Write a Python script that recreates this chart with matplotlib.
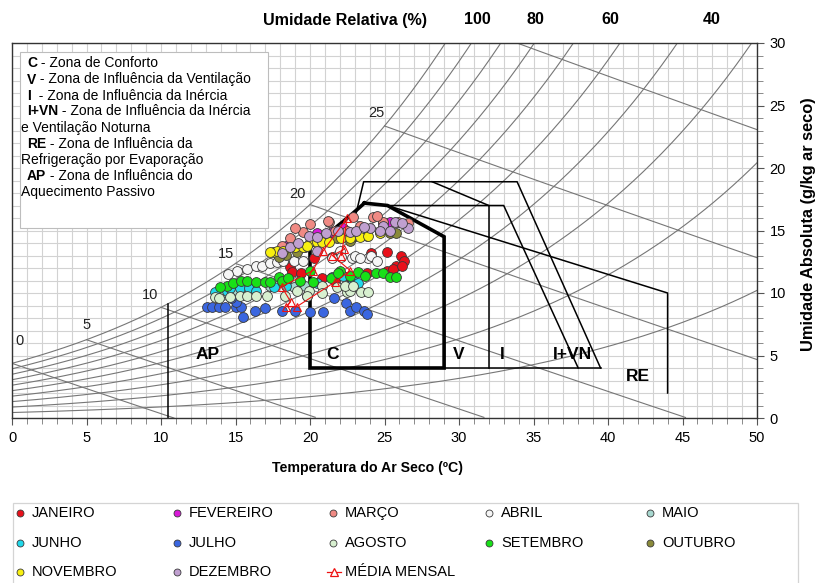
import numpy as np
import matplotlib
matplotlib.use('Agg')
import matplotlib.pyplot as plt
from matplotlib.lines import Line2D
from matplotlib.patches import Rectangle

plt.rcParams['font.family'] = ['Liberation Sans', 'DejaVu Sans']

# ---------------- data ----------------
jan_t = [20.3, 21.5, 24.1, 25.15, 26.1, 26.3, 25.8, 25.15, 23.8, 18.65, 18.8, 19.4, 20.8, 22.7, 21.7, 25.6, 26.2]
jan_w = [12.8, 12.9, 13.2, 13.3, 13.0, 12.6, 12.2, 11.8, 11.6, 12.1, 11.7, 11.6, 11.2, 11.3, 11.0, 11.9, 12.2]
fev_t = [20.45, 22.2, 25.4, 18.4, 24.9, 21.45]
fev_w = [14.8, 15.2, 15.7, 13.8, 15.6, 14.9]
mar_t = [21.3, 19.55, 18.65, 18.1, 21.7, 22.5, 23.35, 24.2, 24.9, 25.9, 26.6, 22.9, 21.2, 22.9, 24.5, 19.0, 20.0]
mar_w = [15.7, 14.9, 14.4, 13.8, 15.0, 15.0, 15.4, 16.1, 15.7, 15.7, 15.6, 14.6, 15.8, 16.1, 16.2, 15.2, 15.5]
abr_t = [15.75, 16.4, 16.8, 17.3, 17.8, 18.2, 18.9, 19.55, 22.0, 22.1, 22.8, 23.0, 23.9, 24.1, 24.5, 21.5, 23.35, 15.1, 14.5]
abr_w = [11.95, 12.2, 12.2, 12.4, 12.5, 12.6, 12.6, 12.6, 13.4, 12.9, 12.8, 13.0, 12.8, 13.0, 12.6, 12.8, 12.8, 11.8, 11.5]
mai_t = [13.85, 14.86, 16.2, 17.3, 19.65, 22.6, 14.3, 15.5, 18.9, 23.1]
mai_w = [9.97, 9.97, 10.24, 10.6, 10.6, 10.6, 10.1, 10.1, 10.5, 10.6]
jun_t = [13.6, 14.4, 15.3, 15.9, 16.4, 17.6, 18.4, 21.5, 22.2, 22.9, 23.2, 14.6, 20.45]
jun_w = [10.1, 10.2, 10.4, 10.4, 10.2, 10.5, 10.6, 11.3, 11.4, 11.0, 10.8, 10.4, 10.8]
jul_t = [13.1, 13.4, 13.9, 14.3, 15.0, 15.4, 15.5, 15.0, 17.0, 18.1, 19.0, 20.0, 20.9, 21.6, 22.4, 22.7, 23.1, 23.6, 23.8, 19.8, 16.3, 14.7]
jul_w = [8.9, 8.9, 8.9, 8.9, 8.9, 8.9, 8.1, 9.3, 8.8, 8.6, 8.6, 8.5, 8.5, 9.6, 9.2, 8.6, 8.9, 8.6, 8.3, 9.8, 8.6, 9.6]
ago_t = [13.6, 13.9, 14.6, 15.3, 15.75, 16.4, 17.1, 18.3, 19.1, 19.9, 20.8, 20.8, 21.8, 22.5, 22.7, 23.4, 23.9, 19.8, 22.35, 22.9]
ago_w = [9.7, 9.6, 9.7, 9.8, 9.8, 9.8, 9.8, 9.8, 10.2, 10.2, 10.6, 10.0, 10.5, 10.1, 10.2, 10.1, 10.1, 9.8, 10.6, 10.6]
set_t = [14.4, 14.85, 15.4, 15.75, 16.4, 17.0, 17.3, 17.9, 18.1, 18.5, 19.3, 20.0, 20.2, 21.4, 22.0, 22.7, 23.2, 23.7, 24.4, 24.9, 25.4, 25.8, 21.9, 13.96]
set_w = [10.6, 10.8, 11.0, 11.0, 10.9, 10.9, 10.9, 11.3, 11.0, 11.2, 11.0, 11.8, 10.9, 11.2, 11.8, 11.4, 11.7, 11.4, 11.6, 11.6, 11.3, 11.3, 11.6, 10.5]
out_t = [18.4, 19.1, 19.65, 21.1, 22.9, 23.8, 24.7, 25.4, 25.8, 22.7, 21.8, 17.9]
out_w = [13.04, 13.3, 13.7, 14.4, 14.5, 14.6, 14.9, 14.8, 14.8, 14.2, 14.4, 12.9]
nov_t = [17.5, 17.8, 18.2, 19.0, 19.5, 20.0, 20.45, 20.8, 21.25, 22.1, 23.35, 23.9, 24.7, 17.3, 19.8, 22.7]
nov_w = [13.3, 13.4, 13.4, 13.7, 13.7, 14.1, 14.1, 14.1, 14.1, 14.4, 14.5, 14.6, 14.8, 13.3, 13.8, 14.4]
dez_t = [18.65, 19.2, 19.9, 20.45, 21.1, 21.9, 22.7, 23.1, 24.0, 24.9, 25.7, 26.6, 26.15, 20.45, 18.1, 24.7, 25.4, 23.6]
dez_w = [13.7, 14.0, 14.6, 14.5, 14.8, 15.0, 14.9, 15.0, 15.2, 15.4, 15.7, 15.2, 15.6, 13.4, 13.2, 15.0, 15.0, 15.3]

media_t = [22.1, 22.5, 20.9, 20.2, 18.1, 18.7, 18.4, 19.1, 21.7, 22.7, 21.5, 22.3]
media_w = [13.0, 16.0, 13.4, 11.8, 10.5, 9.3, 8.9, 8.9, 10.9, 11.8, 13.0, 13.5]

month_names = ['JANEIRO', 'FEVEREIRO', 'MARÇO', 'ABRIL', 'MAIO', 'JUNHO', 'JULHO',
               'AGOSTO', 'SETEMBRO', 'OUTUBRO', 'NOVEMBRO', 'DEZEMBRO']
month_colors = ['#e8101a', '#d818d8', '#f08a84', '#f6f6f6', '#a8d8d0', '#20d8ea',
                '#3a66e0', '#d8f0d0', '#18e018', '#8a8a3a', '#f8f010', '#c0a0d0']
month_t = [jan_t, fev_t, mar_t, abr_t, mai_t, jun_t, jul_t, ago_t, set_t, out_t, nov_t, dez_t]
month_w = [jan_w, fev_w, mar_w, abr_w, mai_w, jun_w, jul_w, ago_w, set_w, out_w, nov_w, dez_w]
media_name = 'MÉDIA MENSAL'

# chart structure
rh_levels = [0.1, 0.2, 0.3, 0.4, 0.5, 0.6, 0.7, 0.8, 0.9, 1.0]
wb_levels = [0, 5, 10, 15, 20, 25, 30]
wb_labels = ['0', '5', '10', '15', '20', '25']
wb_label_off = [(8, 22), (0, 15), (-11, 12), (-10, 9), (-13, 11), (-8, 13)]
rh_top_labels = ['100', '80', '60', '40']
rh_top_x_px = [477, 535, 610, 712]

# zones (temperature, absolute humidity)
c_fixed_t = [23.65, 25.2, 29, 29, 20, 20]
c_fixed_w = [17.0, 17.0, 14.5, 4, 4, 13.4]
ivn_t = [23.1, 23.6, 33.9, 39.5]
ivn_w = [16.4, 18.9, 18.9, 4]
diag_t = [28.2, 32.0]
diag_w = [18.9, 17.0]
i_t = [25.2, 33.0, 38.0]
i_w = [17.0, 17.0, 4.0]
v_t = [32.0, 32.0]
v_w = [17.0, 4.0]
base_t = [29.0, 39.5]
base_w = [4.0, 4.0]
re_t = [25.2, 44.0, 44.0]
re_w = [17.0, 10.0, 2.0]
ap_t = [10.5, 10.5]

zone_labels = ['AP', 'C', 'V', 'I', 'I+VN', 'RE']
zone_label_t = [13.1, 21.5, 30.0, 32.9, 37.6, 42.0]
zone_label_w = [5.1, 5.1, 5.1, 5.1, 5.1, 3.3]

P_ATM = 87.5  # kPa


def pws(t):
    return 0.61078 * np.exp(17.27 * t / (t + 237.3))


def wsat(t):
    p = pws(t)
    return 622.0 * p / (P_ATM - p)


# ---------------- figure ----------------
W_PX, H_PX = 821, 583
fig = plt.figure(figsize=(W_PX / 100, H_PX / 100), dpi=100)
ax = fig.add_axes([12 / W_PX, 1 - 418 / H_PX, 745 / W_PX, 375 / H_PX])
ax.set_xlim(0, 50)
ax.set_ylim(0, 30)


def fx(px):
    return px / W_PX


def fy(py):
    return 1 - py / H_PX


ax.set_xticks(np.arange(0, 51, 5))
ax.set_xticks(np.arange(0, 51, 1), minor=True)
ax.set_yticks(np.arange(0, 31, 5))
ax.set_yticks(np.arange(0, 31, 1), minor=True)
ax.grid(which='both', color='#d2d2d2', lw=0.8, zorder=0)
ax.set_axisbelow(True)
ax.yaxis.tick_right()
ax.tick_params(axis='both', which='major', labelsize=10.5, length=5, width=0.8, color='#555555', pad=4)
ax.tick_params(axis='both', which='minor', length=4, width=0.6, color='#777777')
ax.tick_params(axis='y', which='both', left=False, right=True)
for s in ax.spines.values():
    s.set_color('#333333')
    s.set_linewidth(1.0)

# relative humidity curves
tt = np.linspace(0, 50, 400)
for phi in rh_levels:
    ax.plot(tt, phi * wsat(tt), color='#767676', lw=0.8, zorder=1)

# wet bulb lines
for tw in wb_levels:
    ws = wsat(tw) / 1000.0
    t = np.linspace(tw, 50, 300)
    w = ((2501 - 2.326 * tw) * ws - 1.006 * (t - tw)) / (2501 + 1.86 * t - 4.186 * tw) * 1000
    m = w >= 0
    ax.plot(t[m], w[m], color='#767676', lw=0.8, zorder=1)

for lab, tw, off in zip(wb_labels, wb_levels, wb_label_off):
    ax.annotate(lab, xy=(tw, wsat(tw)), xytext=(off[0], off[1]), textcoords='offset pixels',
                ha='center', va='center', fontsize=10.5, color='#222222', zorder=2)

# comfort zone (thick), upper-left edge follows 80% curve
t80 = np.linspace(20, 23.65, 30)
c_t = [c_fixed_t[0]] + c_fixed_t[1:5] + list(t80) + [c_fixed_t[0]]
c_w = [0.8 * wsat(t80[-1])] + c_fixed_w[1:5] + list(0.8 * wsat(t80)) + [0.8 * wsat(t80[-1])]
ax.plot(c_t, c_w, color='black', lw=2.6, zorder=2.5, solid_joinstyle='miter')

for zt, zw in [(ivn_t, ivn_w), (diag_t, diag_w), (i_t, i_w), (v_t, v_w), (base_t, base_w), (re_t, re_w)]:
    ax.plot(zt, zw, color='black', lw=1.1, zorder=2.4)
ax.plot(ap_t, [0, wsat(10.5)], color='black', lw=1.1, zorder=2.4)

for lab, zt, zw in zip(zone_labels, zone_label_t, zone_label_w):
    ax.text(zt, zw, lab, fontsize=12.5, fontweight='bold', ha='center', va='center', zorder=2.6)

# monthly points
for name, col, xt, yw in zip(month_names, month_colors, month_t, month_w):
    ax.scatter(xt, yw, s=50, c=col, edgecolors='#3a3a3a', linewidths=0.6, zorder=3)

ax.plot(media_t, media_w, color='#ee1111', lw=0.8, marker='^', ms=6, mfc='none', mec='#ee1111', mew=0.8, zorder=4)

# axis labels
fig.text(fx(367), fy(468), 'Temperatura do Ar Seco (ºC)', fontsize=10.2, fontweight='bold', ha='center', va='center')
fig.text(fx(808), fy(224), 'Umidade Absoluta (g/kg ar seco)', fontsize=11.8, fontweight='bold',
         ha='center', va='center', rotation=90)

# top labels
fig.text(fx(345), fy(20), 'Umidade Relativa (%)', fontsize=11.6, fontweight='bold', ha='center', va='center')
for lab, xp in zip(rh_top_labels, rh_top_x_px):
    fig.text(fx(xp), fy(20), lab, fontsize=11.6, fontweight='bold', ha='center', va='center')

# description box
box = Rectangle((fx(20), fy(228)), 248 / W_PX, 176 / H_PX, transform=fig.transFigure,
                facecolor='white', edgecolor='#bdbdbd', lw=0.8, zorder=5)
fig.patches.append(box)
desc = [('C', ' - Zona de Conforto', 27, 63),
        ('V', ' - Zona de Influência da Ventilação', 27, 79.5),
        ('I', '  - Zona de Influência da Inércia', 27, 95.5),
        ('I+VN', ' - Zona de Influência da Inércia', 27, 111.5),
        ('', 'e Ventilação Noturna', 21, 128),
        ('RE', ' - Zona de Influência da', 27, 144),
        ('', 'Refrigeração por Evaporação', 21, 159.5),
        ('AP', ' - Zona de Influência do', 27, 176),
        ('', 'Aquecimento Passivo', 21, 192)]
for b, rest, xp, yp in desc:
    if b:
        tb = fig.text(fx(xp), fy(yp), b, fontsize=10, fontweight='bold', va='center', ha='left', zorder=6)
        ann = matplotlib.text.Annotation(rest, xy=(1, 0.5), xycoords=tb, va='center', ha='left', fontsize=10, zorder=6)
        ann.set_figure(fig)
        fig.texts.append(ann)
    else:
        fig.text(fx(xp), fy(yp), rest, fontsize=10, va='center', ha='left', zorder=6)

# bottom legend, drawn manually in row-major order
leg_box = Rectangle((fx(13), fy(640)), 785 / W_PX, 137 / H_PX, transform=fig.transFigure,
                    facecolor='white', edgecolor='#d4d4d4', lw=0.9, zorder=1)
fig.patches.append(leg_box)
leg_names = month_names + [media_name]
leg_cols = month_colors + [None]
col_px = [20, 177, 333, 489, 650]
row_px = [513, 543, 572]
for i, (name, col) in enumerate(zip(leg_names, leg_cols)):
    cx = col_px[i % 5]
    cy = row_px[i // 5]
    if col is None:
        fig.add_artist(Line2D([fx(cx - 6), fx(cx + 8)], [fy(cy), fy(cy)], transform=fig.transFigure,
                              color='#ee1111', lw=0.9, zorder=3))
        fig.add_artist(Line2D([fx(cx + 1)], [fy(cy)], transform=fig.transFigure, marker='^', ms=6,
                              mfc='white', mec='#ee1111', mew=0.9, ls='none', zorder=4))
        fig.text(fx(cx + 12), fy(cy), name, fontsize=10.5, va='center', ha='left', zorder=4)
    else:
        fig.add_artist(Line2D([fx(cx)], [fy(cy)], transform=fig.transFigure, marker='o', ms=5,
                              mfc=col, mec='#3a3a3a', mew=0.6, ls='none', zorder=3))
        fig.text(fx(cx + 12), fy(cy), name, fontsize=10.5, va='center', ha='left', zorder=4)

fig.savefig('out.png', dpi=100)
